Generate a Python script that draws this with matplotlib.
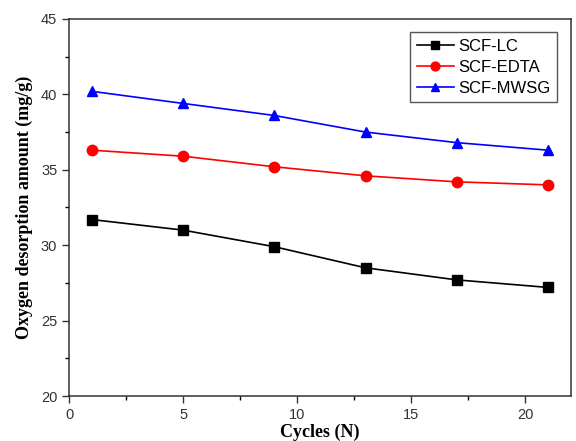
import matplotlib
matplotlib.use("Agg")
import matplotlib.pyplot as plt
from matplotlib.ticker import MultipleLocator

# ---- Data ----
cycles = [1, 5, 9, 13, 17, 21]
scf_lc = [31.7, 31.0, 29.9, 28.5, 27.7, 27.2]
scf_edta = [36.3, 35.9, 35.2, 34.6, 34.2, 34.0]
scf_mwsg = [40.2, 39.4, 38.6, 37.5, 36.8, 36.3]

# ---- Plot ----
plt.rcParams["font.family"] = ["Liberation Sans", "DejaVu Sans"]
fig = plt.figure(figsize=(5.76, 4.41), dpi=100)
ax = fig.add_axes([0.12, 0.102, 0.871, 0.855])

ax.plot(cycles, scf_lc, color="black", marker="s", markersize=6.5, lw=1.2, label="SCF-LC")
ax.plot(cycles, scf_edta, color="red", marker="o", markersize=7.5, lw=1.2, label="SCF-EDTA")
ax.plot(cycles, scf_mwsg, color="blue", marker="^", markersize=7.5, lw=1.2, label="SCF-MWSG")

ax.set_xlim(0, 22)
ax.set_ylim(20, 45)
ax.xaxis.set_major_locator(MultipleLocator(5))
ax.xaxis.set_minor_locator(MultipleLocator(2.5))
ax.yaxis.set_major_locator(MultipleLocator(5))
ax.yaxis.set_minor_locator(MultipleLocator(2.5))
ax.tick_params(which="major", direction="out", length=5, width=1, labelsize=10.5, colors="#333333")
ax.tick_params(which="minor", direction="out", length=3, width=1)
for s in ax.spines.values():
    s.set_linewidth(1.1)
    s.set_color("#333333")

lab_font = {"family": "Liberation Serif", "weight": "bold", "size": 13}
ax.set_xlabel("Cycles (N)", fontdict=lab_font, labelpad=1)
ax.set_ylabel("Oxygen desorption amount (mg/g)", fontdict=lab_font, labelpad=6)

leg = ax.legend(loc="upper right", fontsize=12, fancybox=False, framealpha=1,
                edgecolor="#555555", handlelength=2.2, borderaxespad=0.8,
                labelspacing=0.35, handletextpad=0.3, markerscale=0.85,
                borderpad=0.4)
leg.get_frame().set_linewidth(1.0)

fig.savefig("out.png", dpi=100)
